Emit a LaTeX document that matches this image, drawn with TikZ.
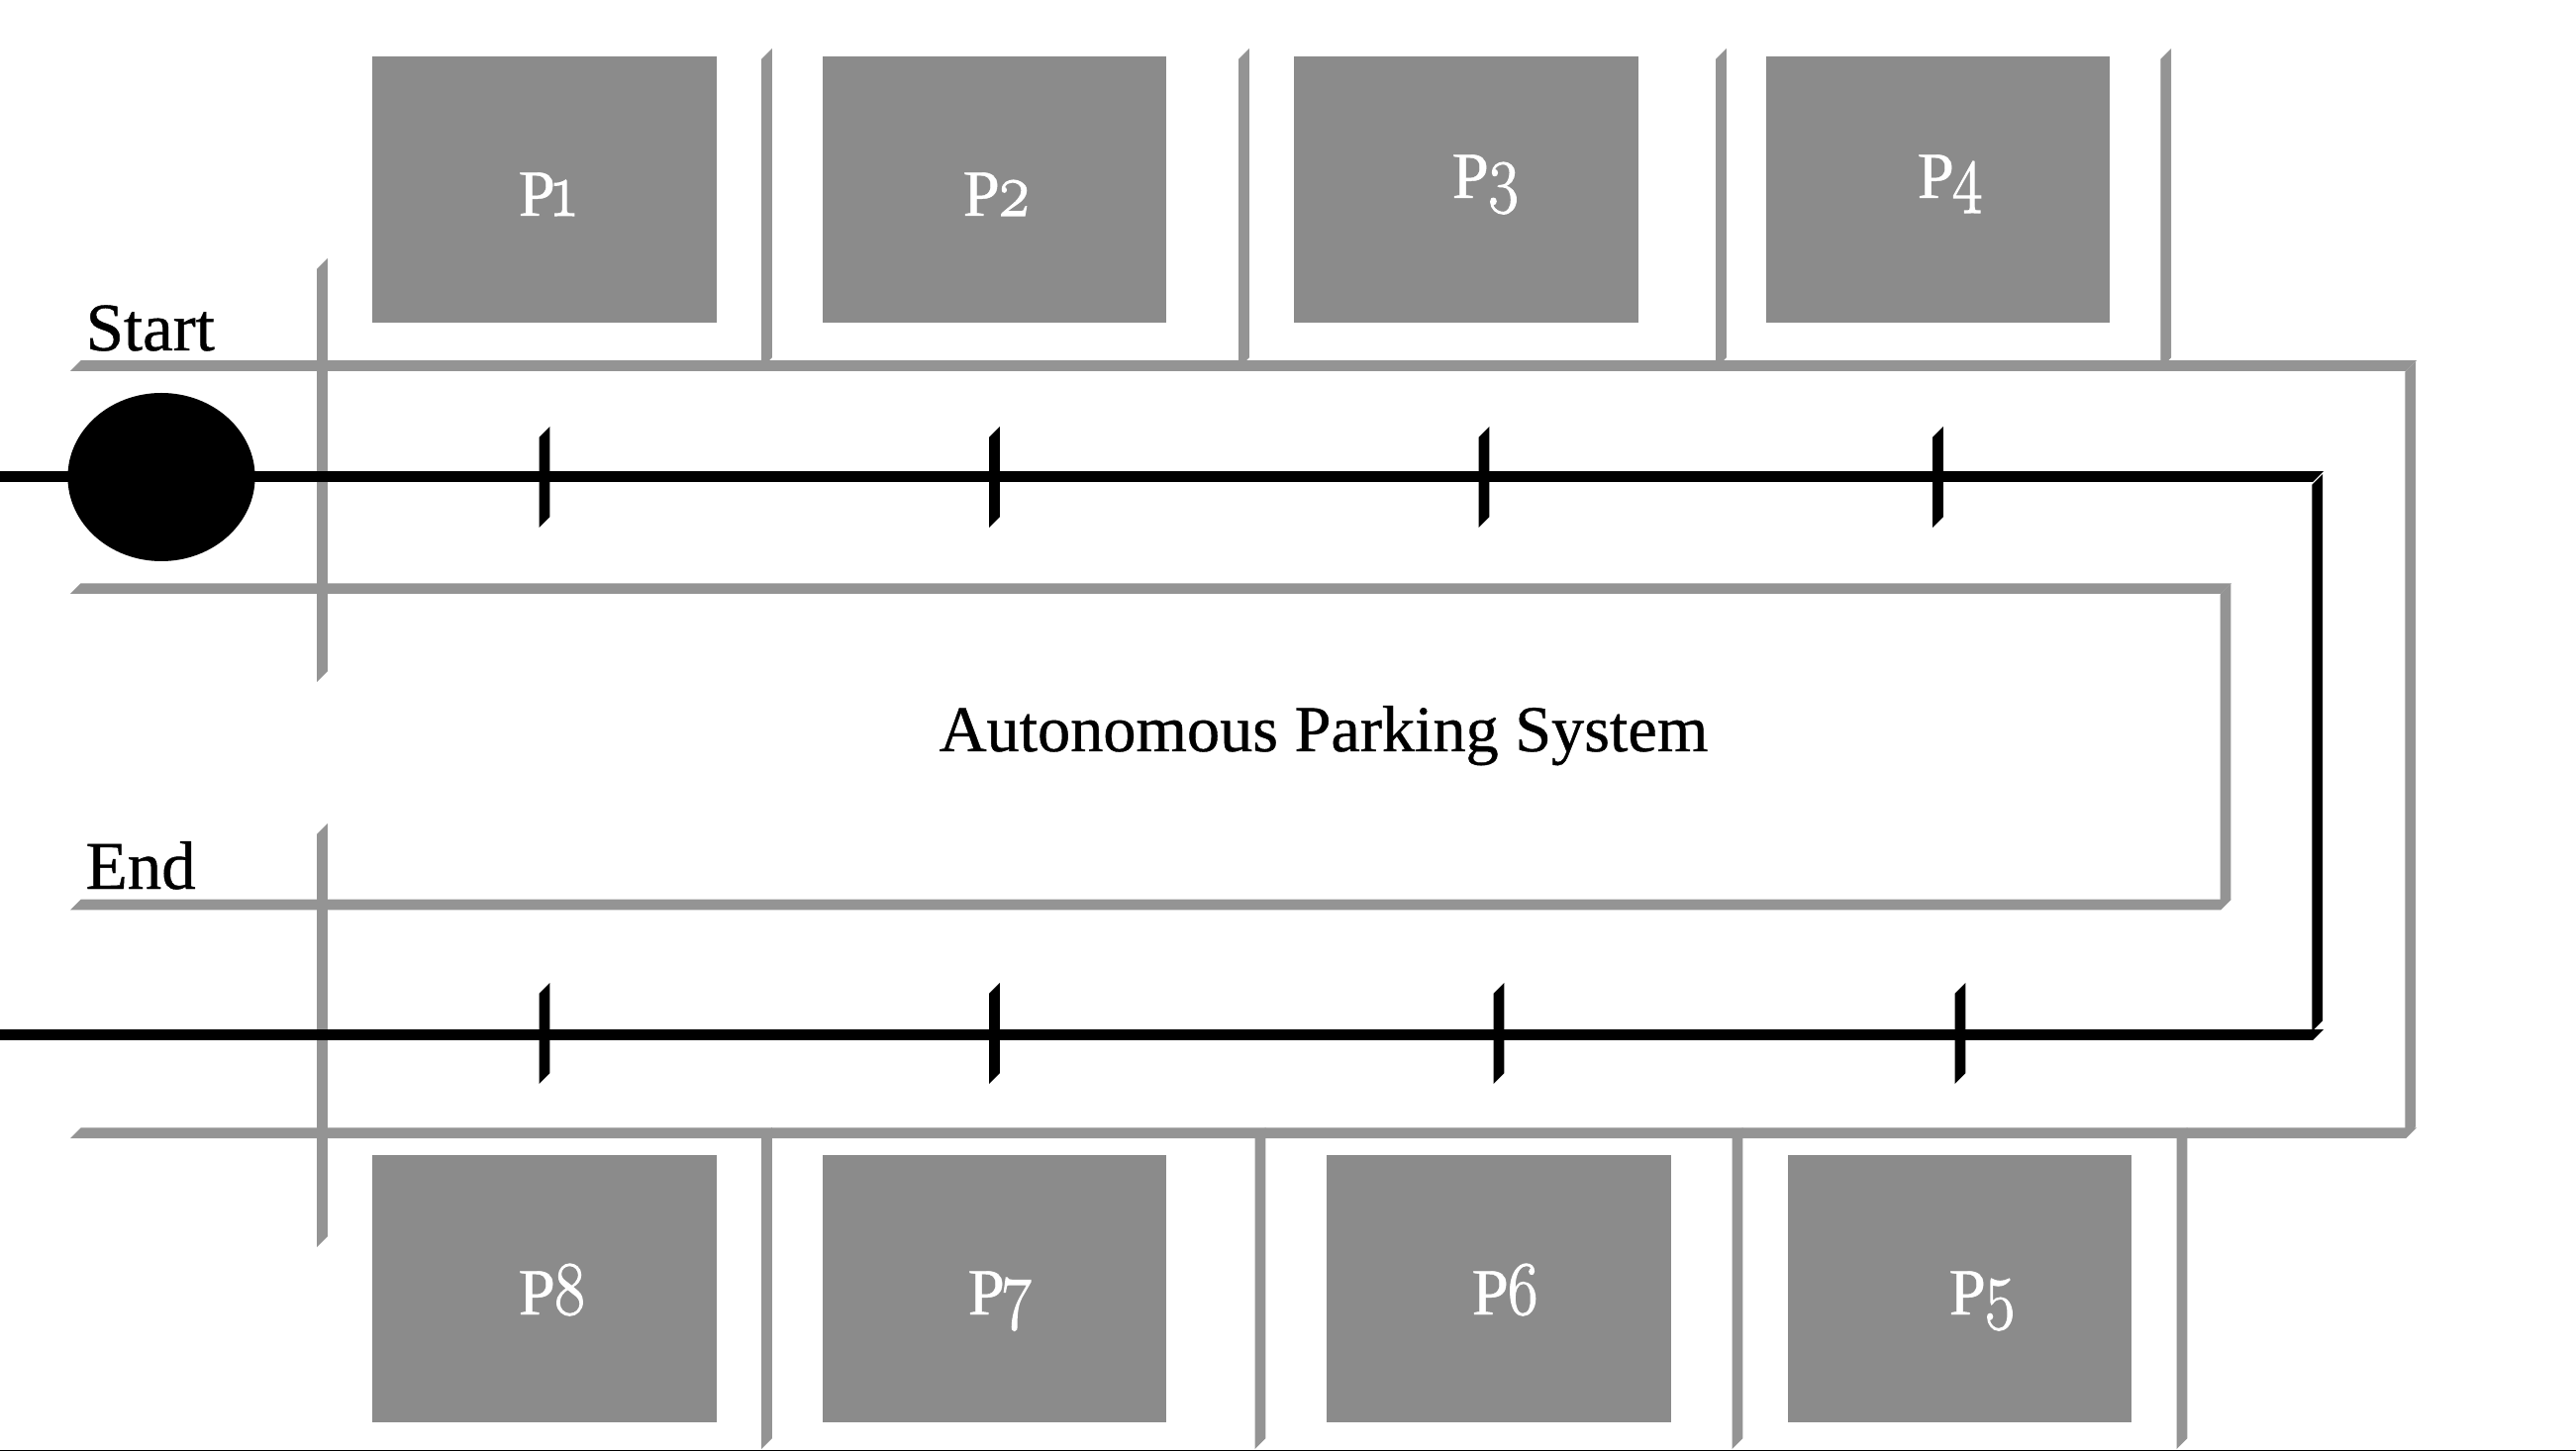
\documentclass[tikz,border=0pt]{standalone}
\usepackage{fontspec}
\setmainfont{Liberation Serif}[FakeBold=0.6]
\newfontfamily\oldnum{Latin Modern Roman}[Numbers=OldStyle,FakeBold=1.5,FakeStretch=0.85]
\definecolor{wallgray}{HTML}{949494}
\definecolor{slotgray}{HTML}{8B8B8B}
\newcommand{\digit}[1]{\kern-0.8pt{\oldnum\fontsize{22}{22}\selectfont #1}}
\tikzset{
  wall/.style={fill=wallgray},
  lane/.style={fill=black},
  slot/.style={fill=slotgray},
  word/.style={anchor=base west,inner sep=0pt,font=\fontsize{19.6}{19.6}\selectfont},
  slotname/.style={word,text=white,font=\fontsize{19}{19}\selectfont},
}
% horizontal and vertical bars with slanted ends: style, position, from, to
\newcommand{\barh}[4]{\fill[#1] (#3,#2+5.3) -- (#3+10.6,#2-5.3) -- (#4,#2-5.3) -- (#4-10.6,#2+5.3) -- cycle;}
\newcommand{\barv}[4]{\fill[#1] (#2-5.3,#3+10.6) -- (#2+5.3,#3) -- (#2+5.3,#4-10.6) -- (#2-5.3,#4) -- cycle;}
\begin{document}
\begin{tikzpicture}[x=0.1mm,y=-0.1mm]
\useasboundingbox (0,0) rectangle (2602,1466);
\fill[slot] (376,57) rectangle (724,326); %P1
\fill[slot] (831,57) rectangle (1178,326); %P2
\fill[slot] (1307,57) rectangle (1655,326); %P3
\fill[slot] (1784,57) rectangle (2131,326); %P4
\fill[slot] (1806,1167) rectangle (2153,1437); %P5
\fill[slot] (1340,1167) rectangle (1688,1437); %P6
\fill[slot] (831,1167) rectangle (1178,1437); %P7
\fill[slot] (376,1167) rectangle (724,1437); %P8
\barh{wall}{369.5}{71}{2441} %outer top
\barh{wall}{594.7}{71}{2254} %inner top
\barh{wall}{914}{71}{2254} %inner bottom
\barh{wall}{1144.7}{71}{2441} %outer bottom
\barv{wall}{2434.7}{365}{1149}
\barv{wall}{2248}{590}{919}
\barv{wall}{325.5}{261}{689} %start gate
\barv{wall}{325.5}{832}{1260} %end gate
\barv{wall}{774.5}{49}{372}
\barv{wall}{1256.5}{49}{372}
\barv{wall}{1738.5}{49}{372}
\barv{wall}{2187.7}{49}{372}
\barv{wall}{774.5}{1139}{1464}
\barv{wall}{1273}{1139}{1464}
\barv{wall}{1755}{1139}{1464}
\barv{wall}{2204}{1139}{1464}
\barh{lane}{481.5}{-11}{2347} %path
\barh{lane}{1045.5}{-11}{2347}
\barv{lane}{2340.7}{479}{1042}
\barv{lane}{550}{431}{533}
\barv{lane}{1004.5}{431}{533}
\barv{lane}{1499}{431}{533}
\barv{lane}{1957.5}{431}{533}
\barv{lane}{550}{993}{1095}
\barv{lane}{1004.5}{993}{1095}
\barv{lane}{1514}{993}{1095}
\barv{lane}{1980}{993}{1095}
\fill[black] (163,482) ellipse [x radius=94.6,y radius=85]; %car
\fill[black] (0,1464.7) rectangle (2602,1466);
\node[word] (start) at (86,354) {Start};
\node[word] (end) at (86,898) {End};
\node[word,font=\fontsize{18.85}{18.85}\selectfont] (title) at (948,759) {Autonomous Parking System};
\node[slotname] (p1) at (523,218) {P\digit{1}};
\node[slotname] (p2) at (972,218) {P\digit{2}};
\node[slotname] (p3) at (1466,200) {P\digit{3}};
\node[slotname] (p4) at (1936,200) {P\digit{4}};
\node[slotname] (p5) at (1968,1328) {P\digit{5}};
\node[slotname] (p6) at (1486,1328) {P\digit{6}};
\node[slotname] (p7) at (977,1328) {P\digit{7}};
\node[slotname] (p8) at (523,1328) {P\digit{8}};
\end{tikzpicture}
\end{document}
